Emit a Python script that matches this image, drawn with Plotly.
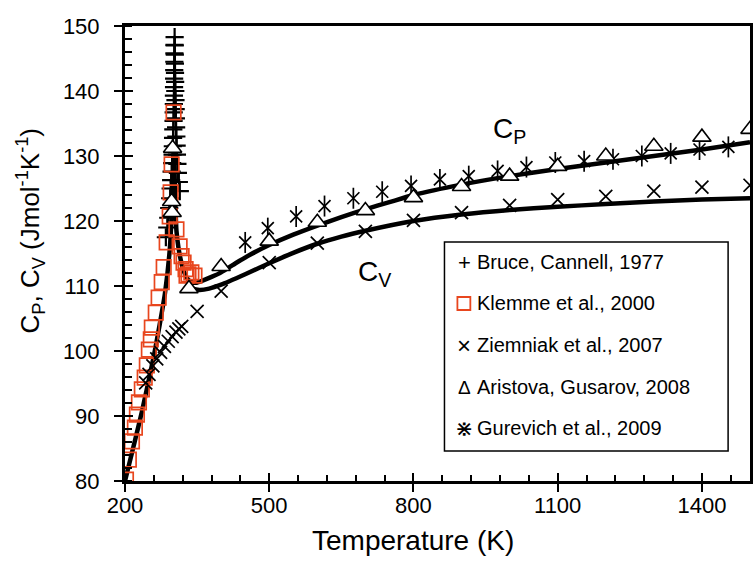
import plotly.graph_objects as go

# ---- data -----------------------------------------------------------------
# Bruce, Cannell 1977 (+), dense points around the Neel transition
bruce_T = [285, 288, 290, 292, 294, 295, 296, 297, 298, 299, 299.5, 300, 300.5, 301,
           301.3, 301.6, 301.8, 302, 302.2, 302.4, 302.6,
           302.8, 303, 303.2, 303.4, 303.6, 303.8, 304, 304.3, 304.6, 305, 305.4,
           305.8, 306.3, 306.8, 307.4, 308, 309, 310, 312, 314]
bruce_C = [117.5, 119.0, 120.5, 122.0, 123.5, 125.0, 126.3, 127.6, 128.9, 130.2, 131.5,
           132.8, 134.1, 135.4, 136.7, 138.0, 139.3, 140.6, 141.9, 143.2, 144.5,
           145.8, 147.1, 148.3, 147.0, 145.6, 144.2, 142.8, 141.4, 140.0, 138.6,
           137.2, 135.8, 134.4, 133.0, 131.6, 130.2, 128.8, 127.4, 126.0, 124.6]

# Klemme et al. 2000 (open squares)
klemme_T = [202, 208, 214.5, 220.6, 224.8, 229, 235, 241, 245.4, 249.6, 253.7, 255.8,
            264, 270, 276.4, 280.5, 286.7, 293, 295, 297, 301,
            307, 313.6, 317.7, 321.8, 326, 328, 332, 338, 344.5]
klemme_C = [80.2, 83.3, 86.1, 88.2, 90.2, 92.1, 94.1, 95.9, 97.8, 100.2, 101.8, 103.6,
            105.9, 108.2, 110.6, 112.9, 116.7, 120.7, 124.4, 128.7, 136.7,
            118.7, 116.1, 114.6, 113.6, 112.6, 111.6, 111.8, 112.1, 111.6]

# Ziemniak et al. 2007 (x)
ziem_T = [243, 250, 258, 266, 274, 282, 290, 298, 306, 312, 318,
          350, 400, 500, 600, 700, 800, 900, 1000, 1100, 1200, 1300, 1400, 1500]
ziem_C = [95.1, 96.4, 97.7, 98.8, 99.8, 100.7, 101.5, 102.2, 102.9, 103.4, 103.8,
          106.1, 109.2, 113.6, 116.6, 118.4, 120.1, 121.3, 122.4, 123.3, 123.8,
          124.6, 125.2, 125.5]

# Aristova, Gusarov 2008 (open triangles)
arist_T = [298, 297, 299, 333, 400, 500, 600, 700, 800, 900, 1000, 1100, 1200, 1300,
           1400, 1500]
arist_C = [121.3, 123.0, 131.2, 109.6, 113.0, 116.9, 119.8, 121.6, 123.6, 125.3, 126.9,
           128.4, 130.0, 131.5, 132.9, 134.1]

# Gurevich et al. 2009 (asterisks)
gur_T = [450, 497, 556, 615, 675, 735, 795, 855, 915, 975, 1035, 1095, 1155, 1215,
         1275, 1335, 1395, 1455]
gur_C = [116.7, 118.9, 120.7, 122.3, 123.5, 124.5, 125.4, 126.4, 126.9, 127.7, 128.3,
         129.0, 129.2, 129.5, 130.0, 130.4, 131.0, 131.4]

# model curves
cp_T = [200, 210, 220, 235, 252, 262, 272, 283, 293, 298, 302, 303.5, 305, 307, 311,
        316, 322, 330, 338, 348, 360, 380, 400, 430, 460, 500, 550, 600, 650, 700,
        750, 800, 900, 1000, 1100, 1200, 1300, 1400, 1500]
cp_C = [80, 83.0, 86.0, 90.6, 96.4, 100.0, 104.0, 108.8, 115.5, 122.5, 131, 126, 122,
        118.5, 116, 114, 112.3, 111.1, 110.6, 110.5, 110.8, 111.4, 112.1, 113.5, 114.8,
        116.3, 117.9, 119.3, 120.6, 121.8, 122.9, 124.0, 125.6, 126.9, 128.0, 129.0,
        130.0, 131.0, 132.1]

cv_T = [328, 340, 355, 375, 400, 450, 500, 550, 600, 650, 700, 800, 900, 1000, 1100,
        1200, 1300, 1400, 1500]
cv_C = [110.0, 109.6, 109.4, 109.6, 110.2, 111.8, 113.5, 115.1, 116.5, 117.6, 118.5,
        120.0, 121.0, 121.7, 122.2, 122.6, 123.0, 123.3, 123.5]

x_ticks = [200, 500, 800, 1100, 1400]
y_ticks = [80, 90, 100, 110, 120, 130, 140, 150]

legend_labels = ["Bruce, Cannell, 1977", "Klemme et al., 2000", "Ziemniak et al., 2007",
                 "Aristova, Gusarov, 2008", "Gurevich et al., 2009"]
legend_glyphs = ["+", "", "\u00d7", "\u0394", "\u22c7"]
legend_glyph_sizes = [22, 0, 24, 19, 22]

# ---- layout geometry ------------------------------------------------------
W, H = 753, 562
L, R, T, B = 125, 0, 26, 81
PW, PH = W - L - R, H - T - B
FONT = "Liberation Sans, Arial, sans-serif"
SQ = "#E8461E"


def px(xp):
    return (xp - L) / PW


def py(yp):
    return (H - B - yp) / PH


fig = go.Figure()

# model curves
fig.add_trace(go.Scatter(x=cp_T, y=cp_C, mode="lines",
                         line=dict(color="black", width=4.5, shape="spline", smoothing=0.5),
                         showlegend=False))
fig.add_trace(go.Scatter(x=cv_T, y=cv_C, mode="lines",
                         line=dict(color="black", width=4.5, shape="spline", smoothing=0.5),
                         showlegend=False))

# measurements
fig.add_trace(go.Scatter(x=bruce_T, y=bruce_C, mode="markers", showlegend=False,
                         marker=dict(symbol="cross-thin-open", size=13, color="black",
                                     line=dict(color="black", width=2.2))))
fig.add_trace(go.Scatter(x=klemme_T, y=klemme_C, mode="markers", showlegend=False,
                         marker=dict(symbol="square-open", size=14.5, color=SQ,
                                     line=dict(color=SQ, width=1.7))))
fig.add_trace(go.Scatter(x=ziem_T, y=ziem_C, mode="markers", showlegend=False,
                         marker=dict(symbol="x-thin-open", size=13, color="black",
                                     line=dict(color="black", width=1.7))))
fig.add_trace(go.Scatter(x=gur_T, y=gur_C, mode="markers", showlegend=False,
                         marker=dict(symbol="x-thin-open", size=12, color="black",
                                     line=dict(color="black", width=1.7))))
fig.add_trace(go.Scatter(x=gur_T, y=gur_C, mode="markers", showlegend=False,
                         marker=dict(symbol="line-ns-open", size=15, color="black",
                                     line=dict(color="black", width=1.7))))
fig.add_trace(go.Scatter(x=arist_T, y=arist_C, mode="markers", showlegend=False,
                         cliponaxis=False,
                         marker=dict(symbol="triangle-up", size=16, color="white",
                                     line=dict(color="black", width=1.6))))

axis_common = dict(showgrid=False, zeroline=False, showline=True, linecolor="black",
                   linewidth=3, mirror=True, ticks="outside", ticklen=8, tickwidth=1.5,
                   tickcolor="black", tickfont=dict(family=FONT, size=22, color="black"))

fig.update_xaxes(range=[200, 1500], tickvals=x_ticks, ticklabelstandoff=-5,
                 minor=dict(dtick=60, tick0=200, ticks="inside", ticklen=6,
                            tickwidth=1.5, tickcolor="black"),
                 **axis_common)
fig.update_yaxes(range=[80, 150], tickvals=y_ticks, ticklabelstandoff=10,
                 minor=dict(dtick=2, tick0=80, ticks="inside", ticklen=7,
                            tickwidth=1.5, tickcolor="black"),
                 **axis_common)

# inner halves of the major ticks
fig.update_layout(
    xaxis2=dict(overlaying="x", anchor="y", side="bottom", range=[200, 1500],
                tickvals=x_ticks, ticks="inside", ticklen=8, tickwidth=1.5,
                tickcolor="black", showticklabels=False, showgrid=False,
                zeroline=False, showline=False),
    yaxis2=dict(overlaying="y", anchor="x", side="left", range=[80, 150],
                tickvals=y_ticks, ticks="inside", ticklen=8, tickwidth=1.5,
                tickcolor="black", showticklabels=False, showgrid=False,
                zeroline=False, showline=False),
)
fig.add_trace(go.Scatter(x=[None], y=[None], xaxis="x2", yaxis="y2", showlegend=False))

annotations = [
    dict(text="C<sub>P</sub>, C<sub>V</sub> (Jmol<sup>-1</sup>K<sup>-1</sup>)",
         x=px(30), y=py(231), textangle=-90, font=dict(family=FONT, size=26)),
    dict(text="Temperature (K)", x=px(414), y=py(540), font=dict(family=FONT, size=28)),
    dict(text="C<sub>P</sub>", x=px(493), y=py(130), xanchor="left",
         font=dict(family=FONT, size=28)),
    dict(text="C<sub>V</sub>", x=px(357), y=py(273), xanchor="left",
         font=dict(family=FONT, size=28)),
]
row_y = [262, 303, 345, 387, 428]
for lab, gl, gs, ry in zip(legend_labels, legend_glyphs, legend_glyph_sizes, row_y):
    annotations.append(dict(text=lab, x=px(477), y=py(ry), xanchor="left",
                            font=dict(family=FONT, size=20)))
    if gl:
        annotations.append(dict(text=gl, x=px(466), y=py(ry), xanchor="center",
                                font=dict(family=FONT, size=gs)))
for a in annotations:
    a.setdefault("xanchor", "center")
    a.setdefault("yanchor", "middle")
    a.update(xref="paper", yref="paper", showarrow=False)
    a["font"].setdefault("color", "black")

shapes = [
    dict(type="rect", xref="paper", yref="paper", x0=px(446), x1=px(731),
         y0=py(451), y1=py(242), line=dict(color="black", width=1.5),
         fillcolor="white", layer="above"),
    dict(type="rect", xref="paper", yref="paper", x0=px(459), x1=px(472),
         y0=py(310), y1=py(297), line=dict(color=SQ, width=1.8), layer="above"),
]

fig.update_layout(width=W, height=H, margin=dict(l=L, r=R, t=T, b=B),
                  paper_bgcolor="white", plot_bgcolor="white",
                  annotations=annotations, shapes=shapes, showlegend=False)

fig.write_html("out.html")
